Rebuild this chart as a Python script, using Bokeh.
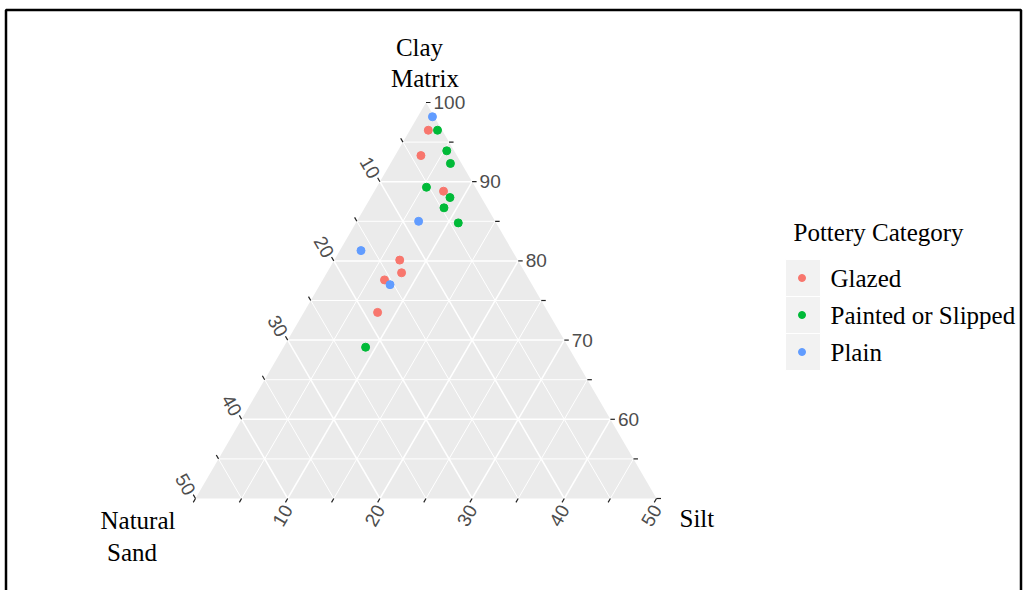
import math
from bokeh.plotting import figure
from bokeh.models import Range1d
from bokeh.core.properties import value
from bokeh.embed import file_html
from bokeh.resources import INLINE

# ---------------- data ----------------
categories = ["Glazed", "Painted or Slipped", "Plain"]
colors = ["#F8766D", "#00BA38", "#619CFF"]

glazed_clay = [96.5, 93.3, 88.8, 80.1, 78.5, 77.6, 73.5]
glazed_silt = [2.0, 2.8, 7.5, 7.1, 8.1, 6.7, 8.0]
glazed_sand = [1.5, 3.9, 3.7, 12.8, 13.4, 15.7, 18.5]

painted_clay = [96.5, 93.9, 92.3, 89.3, 88.0, 86.7, 84.8, 69.1]
painted_silt = [3.0, 5.3, 6.5, 5.4, 8.6, 8.6, 11.1, 8.9]
painted_sand = [0.5, 0.8, 1.2, 5.3, 3.4, 4.7, 4.1, 22.0]

plain_clay = [98.2, 85.0, 81.3, 77.0]
plain_silt = [1.6, 6.7, 2.3, 7.6]
plain_sand = [0.2, 8.3, 16.4, 15.4]

clay_limits = [50, 100]
sand_limits = [0, 50]
silt_limits = [0, 50]

clay_tick_labels = [60, 70, 80, 90, 100]
sand_tick_labels = [10, 20, 30, 40, 50]
silt_tick_labels = [10, 20, 30, 40, 50]

axis_titles = {"clay": ["Clay", "Matrix"], "sand": ["Natural", "Sand"], "silt": ["Silt"]}
legend_title = "Pottery Category"

# ---------------- layout ----------------
W, H = 1026, 590
LEFT_PX, RIGHT_PX, BASE_PX, APEX_PX = 195.0, 656.0, 498.0, 102.0
R3 = math.sqrt(3) / 2


def cart(clay, silt, sand):
    s = clay + silt + sand
    c = 100.0 * clay / s
    t = 100.0 * silt / s
    return t + c / 2.0, c * R3


# scale factors: data units -> pixels
x_left, _ = cart(clay_limits[0], silt_limits[0], sand_limits[1])
x_right, _ = cart(clay_limits[0], silt_limits[1], sand_limits[0])
_, y_base = cart(clay_limits[0], silt_limits[1], sand_limits[0])
_, y_apex = cart(clay_limits[1], 0, 0)
SX = (RIGHT_PX - LEFT_PX) / (x_right - x_left)
SY = (BASE_PX - APEX_PX) / (y_apex - y_base)
X0 = x_left - LEFT_PX / SX
YTOP = y_apex + APEX_PX / SY


def px(xp):
    return X0 + xp / SX


def py(yp):
    return YTOP - yp / SY


p = figure(width=W, height=H, output_backend="svg", toolbar_location=None,
           x_range=Range1d(X0, X0 + W / SX), y_range=Range1d(YTOP - H / SY, YTOP),
           x_axis_location=None, y_axis_location=None,
           min_border=0, min_border_left=0, min_border_right=0,
           min_border_top=0, min_border_bottom=0)
p.outline_line_color = None
p.xgrid.grid_line_color = None
p.ygrid.grid_line_color = None
p.background_fill_color = "white"
p.border_fill_color = "white"

# panel triangle
v_left = cart(clay_limits[0], silt_limits[0], sand_limits[1])
v_right = cart(clay_limits[0], silt_limits[1], sand_limits[0])
v_apex = cart(clay_limits[1], silt_limits[0], sand_limits[0])
p.patch([v_left[0], v_right[0], v_apex[0]], [v_left[1], v_right[1], v_apex[1]],
        fill_color="#EBEBEB", line_color=None)

# grid lines
maj_xs, maj_ys, min_xs, min_ys = [], [], [], []
for v in range(5, 50, 5):
    c = 100 - v  # clay line
    a = cart(c, 0, 100 - c)
    b = cart(c, 100 - c, 0)
    segs = [(a, b)]
    # sand line
    a2 = cart(100 - v, 0, v)
    b2 = cart(50, 50 - v, v)
    segs.append((a2, b2))
    # silt line
    a3 = cart(100 - v, v, 0)
    b3 = cart(50, v, 50 - v)
    segs.append((a3, b3))
    for (s, e) in segs:
        if v % 10 == 0:
            maj_xs.append([s[0], e[0]]); maj_ys.append([s[1], e[1]])
        else:
            min_xs.append([s[0], e[0]]); min_ys.append([s[1], e[1]])
p.multi_line(min_xs, min_ys, line_color="white", line_width=1.0)
p.multi_line(maj_xs, maj_ys, line_color="white", line_width=1.5)

# ticks
TL = 4.5
tx, ty = [], []
for c in range(50, 101, 5):
    x, y = cart(c, 100 - c, 0)
    tx.append([x, x + TL / SX]); ty.append([y, y])
for s in range(5, 51, 5):
    x, y = cart(100 - s, 0, s)
    tx.append([x, x - 0.5 * TL / SX]); ty.append([y, y + 0.866 * TL / SY])
for t in range(0, 51, 5):
    x, y = cart(50, t, 50 - t)
    tx.append([x, x - 0.5 * TL / SX]); ty.append([y, y - 0.866 * TL / SY])
p.multi_line(tx, ty, line_color="#222222", line_width=1.2)

TICK_FONT = value("Liberation Sans")
TICK_SIZE = "19px"
TICK_COLOR = "#4D4D4D"

# clay labels
cx, cy, ct = [], [], []
for c in clay_tick_labels:
    x, y = cart(c, 100 - c, 0)
    cx.append(x + (TL + 3) / SX); cy.append(y); ct.append(str(c))
p.text(cx, cy, text=ct, text_font=TICK_FONT, text_font_size=TICK_SIZE, text_color=TICK_COLOR,
       text_align="left", text_baseline="middle")

# sand labels
sx_, sy_, st = [], [], []
for s in sand_tick_labels:
    x, y = cart(100 - s, 0, s)
    sx_.append(x - 10 / SX); sy_.append(y + 14 / SY); st.append(str(s))
p.text(sx_, sy_, text=st, text_font=TICK_FONT, text_font_size=TICK_SIZE, text_color=TICK_COLOR,
       text_align="center", text_baseline="middle", angle=-math.pi / 3)

# silt labels
ux, uy, ut = [], [], []
for t in silt_tick_labels:
    x, y = cart(50, t, 50 - t)
    ux.append(x - 5 / SX); uy.append(y - 17 / SY); ut.append(str(t))
p.text(ux, uy, text=ut, text_font=TICK_FONT, text_font_size=TICK_SIZE, text_color=TICK_COLOR,
       text_align="center", text_baseline="middle", angle=math.pi / 3)

# data points
series = [
    (glazed_clay, glazed_silt, glazed_sand),
    (painted_clay, painted_silt, painted_sand),
    (plain_clay, plain_silt, plain_sand),
]
for (cl, si, sa), col in zip(series, colors):
    pts = [cart(a, b, c) for a, b, c in zip(cl, si, sa)]
    p.scatter([q[0] for q in pts], [q[1] for q in pts], size=8, marker="circle",
              fill_color=col, line_color=col)

TITLE_FONT = value("Liberation Serif")
TITLE_SIZE = "25px"

# axis titles
p.text([px(419)], [py(47)], text=[axis_titles["clay"][0]], text_font=TITLE_FONT,
       text_font_size=TITLE_SIZE, text_color="black", text_align="center", text_baseline="alphabetic")
p.text([px(424.5)], [py(78)], text=[axis_titles["clay"][1]], text_font=TITLE_FONT,
       text_font_size=TITLE_SIZE, text_color="black", text_align="center", text_baseline="alphabetic")
p.text([px(137.5)], [py(520)], text=[axis_titles["sand"][0]], text_font=TITLE_FONT,
       text_font_size=TITLE_SIZE, text_color="black", text_align="center", text_baseline="alphabetic")
p.text([px(131.5)], [py(551.5)], text=[axis_titles["sand"][1]], text_font=TITLE_FONT,
       text_font_size=TITLE_SIZE, text_color="black", text_align="center", text_baseline="alphabetic")
p.text([px(679)], [py(518)], text=axis_titles["silt"], text_font=TITLE_FONT,
       text_font_size=TITLE_SIZE, text_color="black", text_align="left", text_baseline="alphabetic")

# legend (manual)
p.text([px(793)], [py(232)], text=[legend_title], text_font=TITLE_FONT, text_font_size=TITLE_SIZE,
       text_color="black", text_align="left", text_baseline="alphabetic")
key_y = [277.5, 314.5, 351.5]
p.rect([px(802.5)] * 3, [py(k) for k in key_y], width=35, height=37,
       width_units="screen", height_units="screen",
       fill_color="#F2F2F2", line_color="white", line_width=1)
for k, col in zip(key_y, colors):
    p.scatter([px(801.5)], [py(k)], size=7, marker="circle", fill_color=col, line_color=col)
p.text([px(830)] * 3, [py(k) for k in key_y], text=categories, text_font=TITLE_FONT,
       text_font_size=TITLE_SIZE, text_color="black", text_align="left", text_baseline="middle")

# outer frame (top, left, right)
p.line([px(5.5), px(5.5), px(1020.5), px(1020.5)], [py(600), py(9.5), py(9.5), py(600)],
       line_color="black", line_width=2.5)

open("out.html", "w").write(file_html(p, INLINE))
